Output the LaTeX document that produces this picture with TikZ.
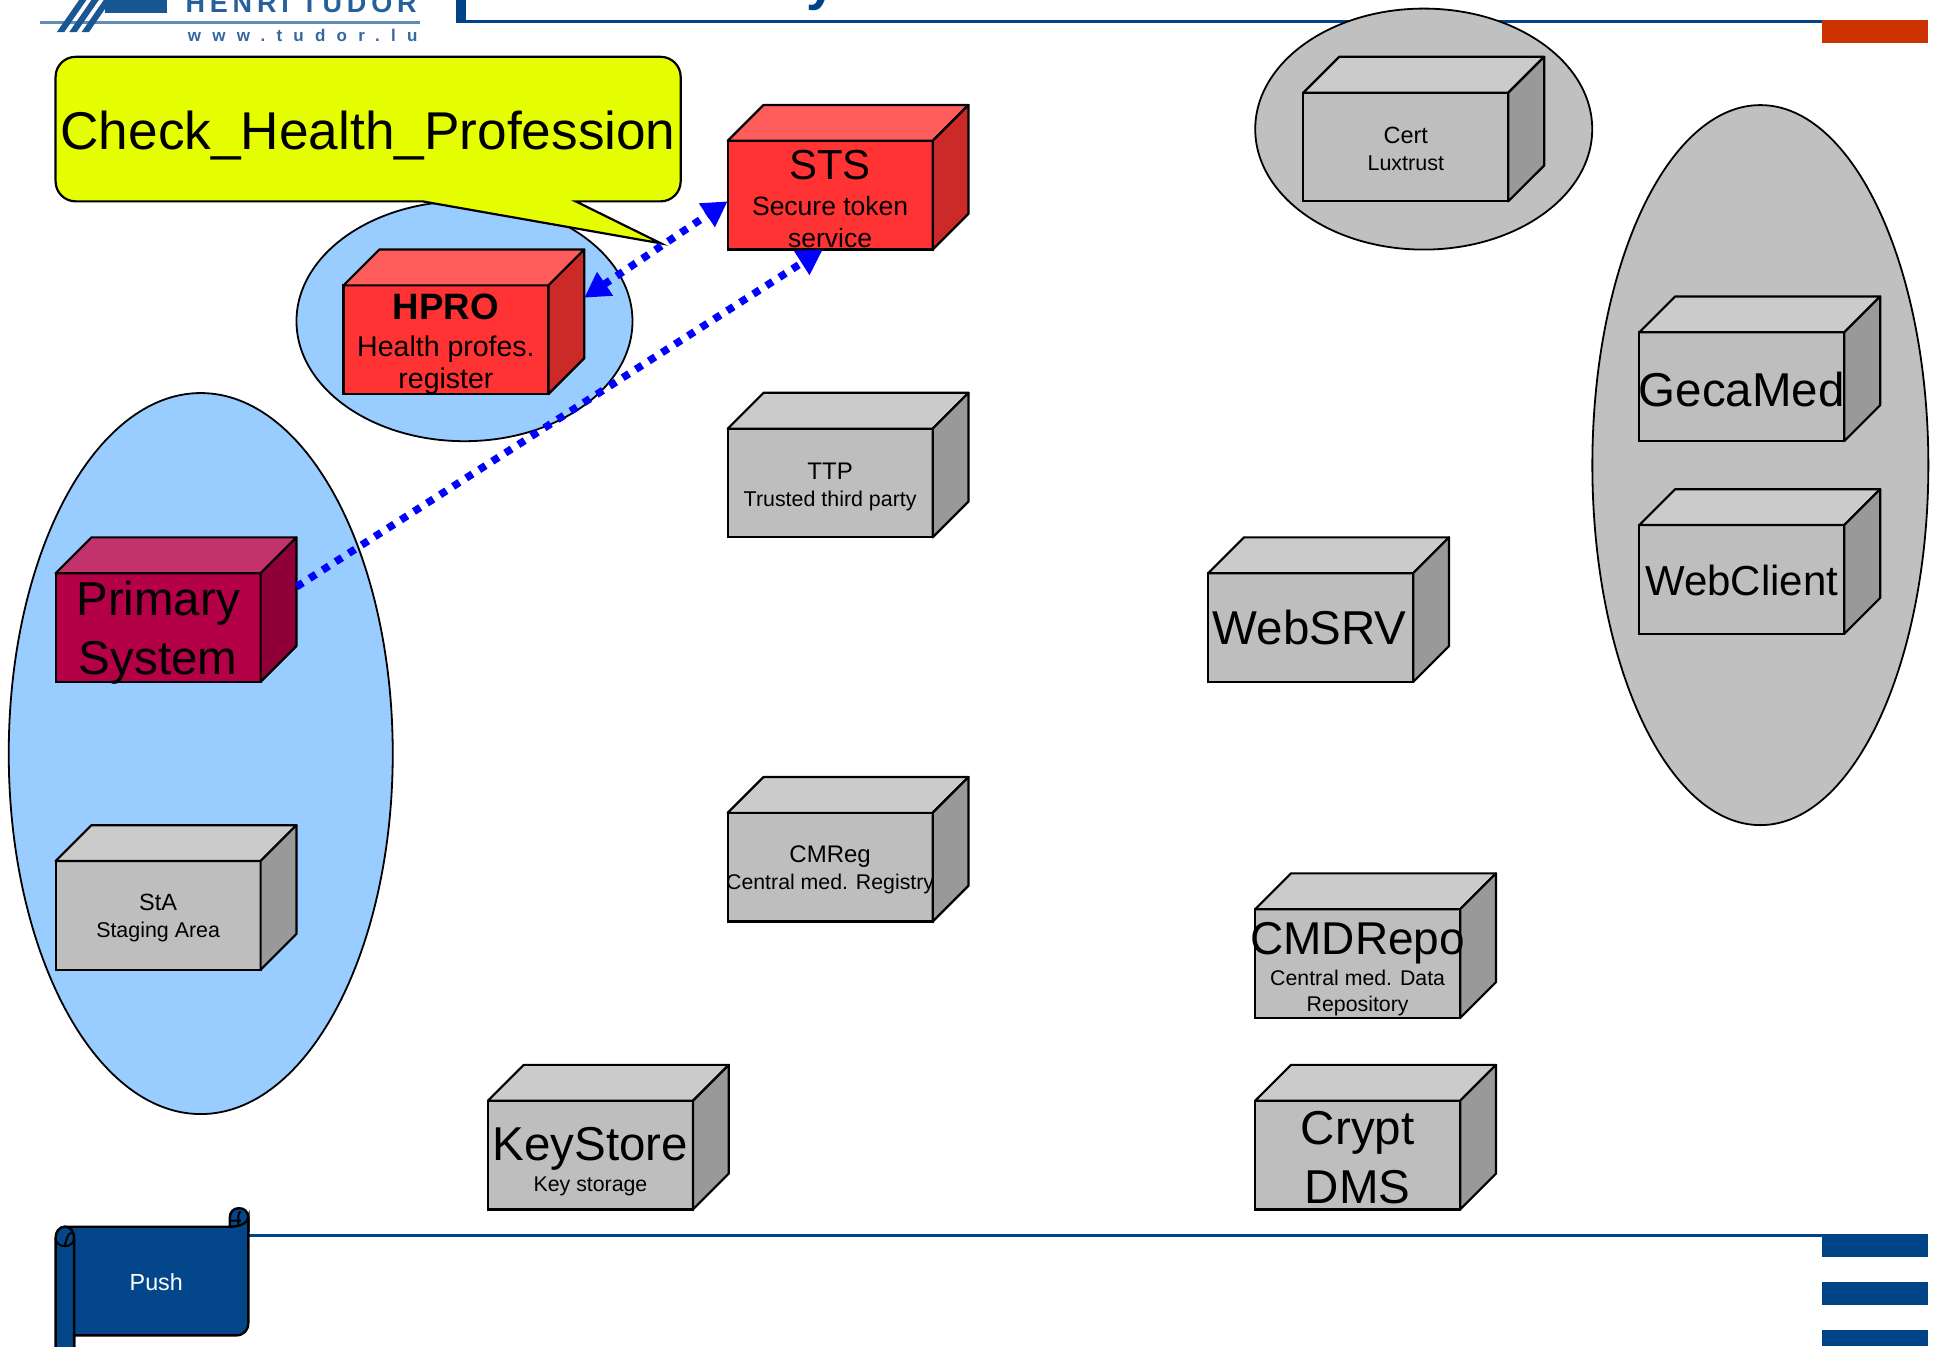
\documentclass[tikz,border=0pt]{standalone}
\usepackage{fontspec}
\setmainfont{Liberation Sans}
\newfontfamily\logofont[LetterSpace=18]{Liberation Sans}
\newfontfamily\logosmall[LetterSpace=66]{Liberation Sans}
\usetikzlibrary{arrows.meta,calc,shapes.geometric}
\definecolor{tudorblue}{HTML}{004488}
\definecolor{scrollblue}{HTML}{03478A}
\definecolor{tudorred}{HTML}{CC3300}
\definecolor{calloutyellow}{HTML}{E6FF00}
\definecolor{skyfill}{HTML}{99CCFF}
\definecolor{groupgray}{HTML}{C0C0C0}
\definecolor{grayfront}{HTML}{BEBEBE}
\definecolor{graytop}{HTML}{CBCBCB}
\definecolor{grayside}{HTML}{999999}
\definecolor{redfront}{HTML}{FF3333}
\definecolor{redtop}{HTML}{FF5C5C}
\definecolor{redside}{HTML}{CC2929}
\definecolor{winefront}{HTML}{B30047}
\definecolor{winetop}{HTML}{C2336C}
\definecolor{wineside}{HTML}{8F0039}
\definecolor{logoline}{HTML}{5F8DB5}
\setlength{\lineskip}{0pt}
\setlength{\lineskiplimit}{1000pt}
\newcommand{\fsz}[2]{\fontsize{#1}{#2}\selectfont}
% one text line of a given size and pitch
\newcommand{\tline}[3]{\fsz{#1}{#2}\strut #3}
% name, x, y (top-left of the bounding box), front, top, side colours
\newcommand{\cubebox}[6]{%
  \node[cubeface,fill=#4] (#1) at (#2+83,#3+73) {};
  \draw[cubeedge,fill=#5] (#1.north west) -- ++(29,-29) -- ++(166,0) -- (#1.north east) -- cycle;
  \draw[cubeedge,fill=#6] (#1.north east) -- ++(29,-29) -- ++(0,88) -- (#1.south east) -- cycle;
}
\tikzset{
  cubeface/.style={draw=black,line width=2.2pt,minimum width=205pt,minimum height=108.7pt,inner sep=0pt,outer sep=0pt},
  cubeedge/.style={draw=black,line width=2.2pt,line join=round},
  grouping/.style={draw=black,line width=1.8pt},
  boxlabel/.style={align=center,inner sep=0pt,text=black,font=\fsz{1}{1}},
  conn/.style={draw=blue,line width=7.5pt,dash pattern=on 7.5pt off 8pt},
  band/.style={fill=tudorblue,draw=none},
  scrollshape/.style={draw=black,line width=2.4pt,fill=scrollblue},
}
\begin{document}
\begin{tikzpicture}[x=1.2353pt,y=-1.2353pt]
\useasboundingbox (0,0) rectangle (1568,1089.6);
\fill[white] (0,0) rectangle (1568,1089.6);

% page furniture
\fill[band] (369,0) rectangle (377,18.7);
\fill[band] (369,16.2) rectangle (1475,18.7);
\fill[tudorred] (1475,16.2) rectangle (1561,34.8);
\fill[band] (201,999) rectangle (1475,1001.4);
\fill[band] (1475,999) rectangle (1561,1017.5);
\fill[band] (1475,1038) rectangle (1561,1056.5);
\fill[band] (1475,1077) rectangle (1561,1089.6);
\node[anchor=base west,inner sep=0pt,text=tudorblue,font=\bfseries\fsz{54}{54}] (titlefrag) at (653,0) {y};

% logo
\fill[logoline] (32.5,17.2) rectangle (340,19.4);
\fill[tudorblue!90!white] (85,0) rectangle (135,10.5);
\foreach \bx in {46,56,66}{\fill[tudorblue!90!white] (\bx,26) -- (\bx+6,26) -- (\bx+24,0) -- (\bx+18,0) -- cycle;}
\node[anchor=base west,inner sep=0pt,text=tudorblue!85!white,font=\logofont\bfseries\fsz{27}{27}] (logoname) at (150,10.5) {HENRI TUDOR};
\node[anchor=base west,inner sep=0pt,text=tudorblue!80!white,font=\logosmall\bfseries\fsz{17}{17}] (logourl) at (152,33.5) {www.tudor.lu};

% groupings
\node[grouping,fill=skyfill,ellipse,minimum width=336pt,minimum height=240pt,inner sep=0pt] (hprogroup) at (376,260) {};
\node[grouping,fill=skyfill,ellipse,minimum width=384pt,minimum height=721pt,inner sep=0pt] (primarygroup) at (162.5,610) {};
\node[grouping,fill=groupgray,ellipse,minimum width=337pt,minimum height=241pt,inner sep=0pt] (certgroup) at (1152.5,104.5) {};
\node[grouping,fill=groupgray,ellipse,minimum width=336pt,minimum height=720pt,inner sep=0pt] (clientgroup) at (1425,376.5) {};

% callout
\draw[draw=black,line width=2.2pt,fill=calloutyellow,line join=miter]
  (342,163) [rounded corners=20pt] -- (45,163) -- (45,46) -- (551,46) -- (551,163) [sharp corners] -- (466,163) -- (535,197) -- cycle;
\node[boxlabel,font=\fsz{53.2}{60}] (calloutlabel) at (298,110) {Check\_Health\_Profession};

% boxes
\cubebox{sts}{589}{85}{redfront}{redtop}{redside}
\cubebox{hpro}{278}{202}{redfront}{redtop}{redside}
\cubebox{ttp}{589}{318}{grayfront}{graytop}{grayside}
\cubebox{primary}{45}{435}{winefront}{winetop}{wineside}
\cubebox{sta}{45}{668}{grayfront}{graytop}{grayside}
\cubebox{cmreg}{589}{629}{grayfront}{graytop}{grayside}
\cubebox{keystore}{395}{862}{grayfront}{graytop}{grayside}
\cubebox{cmdrepo}{1016}{707}{grayfront}{graytop}{grayside}
\cubebox{crypt}{1016}{862}{grayfront}{graytop}{grayside}
\cubebox{websrv}{978}{435}{grayfront}{graytop}{grayside}
\cubebox{cert}{1055}{46}{grayfront}{graytop}{grayside}
\cubebox{gecamed}{1327}{240}{grayfront}{graytop}{grayside}
\cubebox{webclient}{1327}{396}{grayfront}{graytop}{grayside}

% labels
\node[boxlabel] (stsL) at (672,162.7) {\tline{42}{48}{STS}\\\tline{26.5}{31.5}{Secure token}\\\tline{26.5}{31.5}{service}};
\node[boxlabel] (hproL) at (361,276.4) {\tline{36.7}{48.7}{\bfseries HPRO}\\\tline{28.5}{32}{Health profes.}\\\tline{28.5}{32}{register}};
\node[boxlabel] (ttpL) at (672,394.4) {\tline{24}{27}{TTP}\\\tline{21.4}{27}{Trusted third party}};
\node[boxlabel] (primaryL) at (128,512.6) {\tline{47.5}{59}{Primary}\\\tline{47.5}{59}{System}};
\node[boxlabel] (staL) at (128,744) {\tline{23.5}{27}{StA}\\\tline{21.4}{27}{Staging Area}};
\node[boxlabel] (cmregL) at (672,705) {\tline{24}{27}{CMReg}\\\tline{21.3}{27}{Central med. Registry}};
\node[boxlabel] (keystoreL) at (478,942) {\tline{47.5}{40}{KeyStore}\\\tline{21.3}{27}{Key storage}};
\node[boxlabel] (cmdrepoL) at (1099,786.2) {\tline{46}{39}{CMDRepo}\\\tline{21.3}{26.5}{Central med. Data}\\\tline{21.3}{26.5}{Repository}};
\node[boxlabel] (cryptL) at (1099,940.6) {\tline{47.5}{59}{Crypt}\\\tline{47.5}{59}{DMS}};
\node[boxlabel,font=\fsz{47.5}{57}] (websrvL) at (1060,508) {WebSRV};
\node[boxlabel] (certL) at (1138,122.5) {\tline{23.5}{27}{Cert}\\\tline{21.5}{27}{Luxtrust}};
\node[boxlabel,font=\fsz{47.5}{57}] (gecamedL) at (1410,315) {GecaMed};
\node[boxlabel,font=\fsz{42}{50}] (webclientL) at (1410,470) {WebClient};

% connectors
\coordinate (hproEnd) at (473,241);
\coordinate (stsEndA) at (589,163);
\coordinate (primaryEnd) at (240,475);
\coordinate (stsEndB) at (666,202);
\draw[conn,{Triangle[length=25pt,width=27pt]}-{Triangle[length=25pt,width=27pt]}] (hproEnd) -- (stsEndA);
\draw[conn,-{Triangle[length=25pt,width=27pt]}] (primaryEnd) -- (stsEndB);

% scroll
\draw[scrollshape] (186,996) -- (186,986) .. controls (186,981) and (189,978) .. (193.5,978) .. controls (198,978) and (201,981) .. (201,986) -- (201,996) -- cycle;
\draw[black,line width=2pt] (186,988) -- (195,988) (193,992) -- (193,984) .. controls (193,982) and (194,981) .. (195,981);
\draw[scrollshape] (52.5,1100) -- (52.5,993) -- (186,993) .. controls (194,993) and (201,990) .. (201,985) -- (201,1071) .. controls (201,1077) and (197,1081) .. (191,1081) -- (60,1081) -- (60,1100) -- cycle;
\draw[scrollshape] (45,1100) -- (45,1002) .. controls (45,997) and (48,993) .. (52.5,993) .. controls (57,993) and (60,997) .. (60,1002) -- (60,1100) -- cycle;
\draw[black,line width=2pt] (45,1002) .. controls (45,1011) and (60,1011) .. (60,1002) (52.5,1008) .. controls (54,1003) and (55,998) .. (58,998);
\node[boxlabel,text=white,font=\fsz{23.3}{27}] (pushL) at (126.5,1038) {Push};
\end{tikzpicture}
\end{document}
